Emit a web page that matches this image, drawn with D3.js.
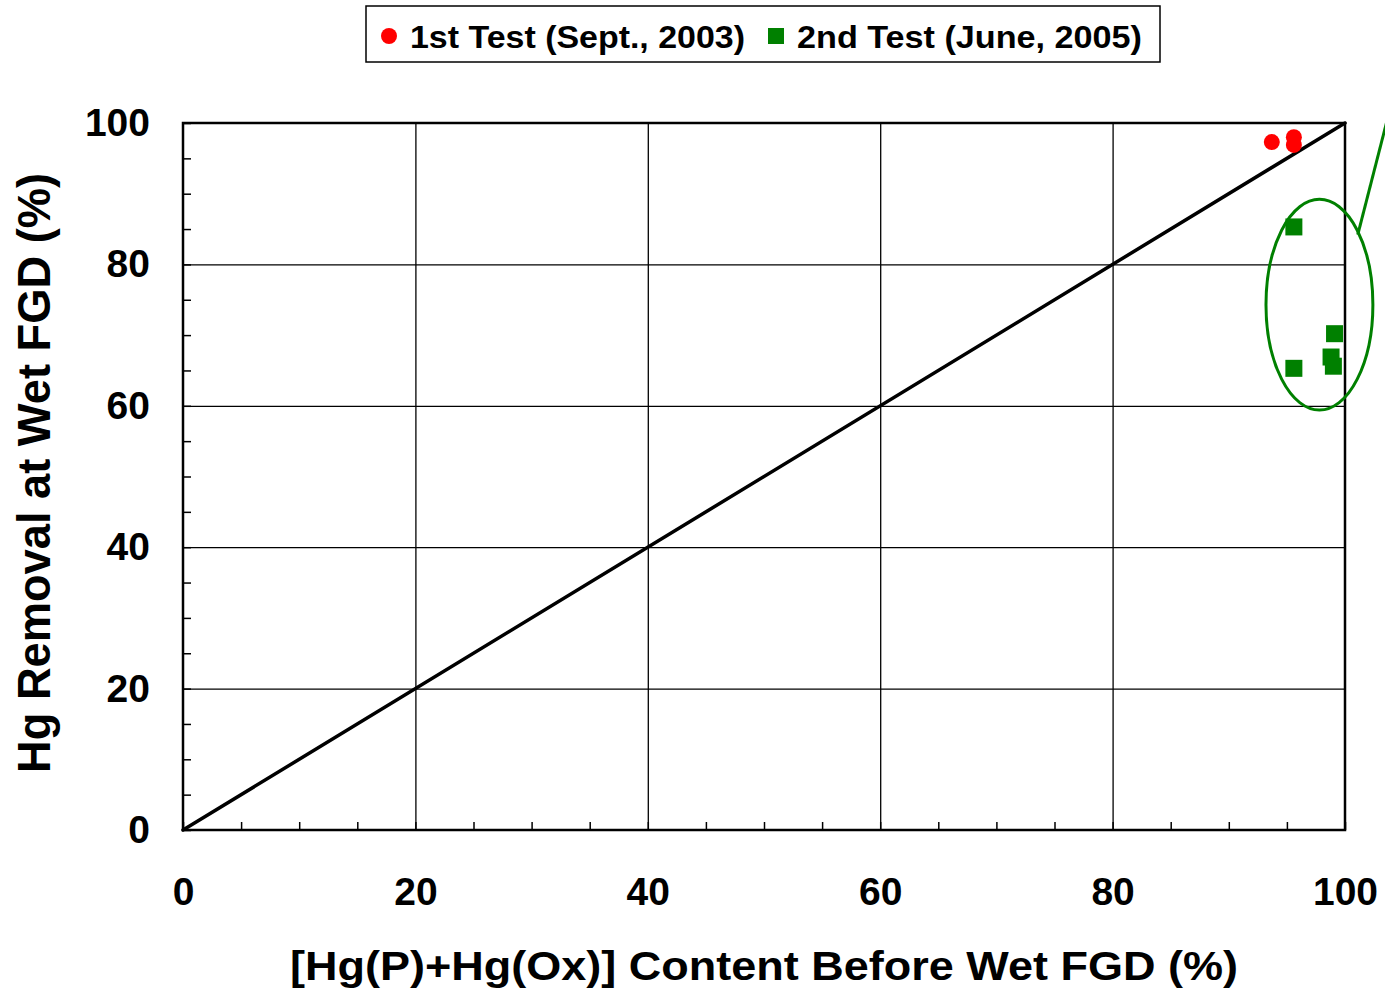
<!DOCTYPE html>
<html>
<head>
<meta charset="utf-8">
<script src="https://cdn.jsdelivr.net/npm/d3@7"></script>
<style>
  body { margin: 0; background: #fff; }
  text { font-family: "Liberation Sans", Arial, sans-serif; font-weight: bold; }
</style>
</head>
<body>
<div id="chart"></div>
<script>
// data
var test1X = [93.7, 95.6, 95.6];
var test1Y = [97.3, 98.0, 96.9];
var test2X = [95.6, 99.1, 98.8, 99.0, 95.6];
var test2Y = [85.3, 70.2, 66.9, 65.6, 65.3];
var majorTicks = [0, 20, 40, 60, 80, 100];
var legendLabels = ["1st Test (Sept., 2003)", "2nd Test (June, 2005)"];
var ellipseCenter = [97.8, 74.3];
var ellipseRadii = [4.6, 14.9];
var calloutLine = [[101.1, 84.2], [104, 102.8]];

var width = 1385, height = 992;
var margin = {top: 123, right: 40, bottom: 162, left: 183};
var chartW = width - margin.left - margin.right,
  chartH = height - margin.top - margin.bottom;

var svg = d3.select("#chart").append("svg")
  .attr("width", width)
  .attr("height", height);

var x = d3.scaleLinear().domain([0, 100]).range([0, chartW]);
var y = d3.scaleLinear().domain([0, 100]).range([chartH, 0]);

var g = svg.append("g")
  .attr("transform", "translate(" + margin.left + "," + margin.top + ")");

// grid lines
g.append("g").attr("class", "grid")
  .attr("transform", "translate(0," + chartH + ")")
  .call(d3.axisBottom(x).tickValues(majorTicks.slice(1, -1)).tickSize(-chartH).tickFormat(""))
  .call(function(s) { s.select(".domain").remove(); });
g.append("g").attr("class", "grid")
  .call(d3.axisLeft(y).tickValues(majorTicks.slice(1, -1)).tickSize(-chartW).tickFormat(""))
  .call(function(s) { s.select(".domain").remove(); });
g.selectAll(".grid line").attr("stroke", "#000").attr("stroke-width", 1.3);

// minor ticks pointing inward
var minor = d3.range(0, 101, 5);
g.append("g").attr("class", "minor")
  .attr("transform", "translate(0," + chartH + ")")
  .call(d3.axisBottom(x).tickValues(minor).tickSize(-8).tickFormat(""));
g.append("g").attr("class", "minor")
  .call(d3.axisLeft(y).tickValues(minor).tickSize(-8).tickFormat(""));
g.selectAll(".minor .domain").remove();
g.selectAll(".minor line").attr("stroke", "#000").attr("stroke-width", 1.5);

// tick labels
var xAxis = g.append("g")
  .attr("transform", "translate(0," + chartH + ")")
  .call(d3.axisBottom(x).tickValues(majorTicks).tickSize(0).tickPadding(47));
var yAxis = g.append("g")
  .call(d3.axisLeft(y).tickValues(majorTicks).tickSize(0).tickPadding(33));
[xAxis, yAxis].forEach(function(a) {
  a.select(".domain").remove();
  a.selectAll("text").attr("font-size", 39).attr("fill", "#000")
    .attr("font-family", "Liberation Sans, Arial, sans-serif");
});

// frame
g.append("rect")
  .attr("width", chartW).attr("height", chartH)
  .attr("fill", "none").attr("stroke", "#000").attr("stroke-width", 2.5);

// 1:1 line
g.append("line")
  .attr("x1", x(0)).attr("y1", y(0))
  .attr("x2", x(100)).attr("y2", y(100))
  .attr("stroke", "#000").attr("stroke-width", 3.5).attr("stroke-linecap", "round");

// callout ellipse and line
g.append("ellipse")
  .attr("cx", x(ellipseCenter[0])).attr("cy", y(ellipseCenter[1]))
  .attr("rx", x(ellipseRadii[0]) - x(0)).attr("ry", y(0) - y(ellipseRadii[1]))
  .attr("fill", "none").attr("stroke", "#008000").attr("stroke-width", 3);
g.append("path")
  .attr("d", d3.line().x(function(d) { return x(d[0]); }).y(function(d) { return y(d[1]); })(calloutLine))
  .attr("fill", "none").attr("stroke", "#008000").attr("stroke-width", 3);

// points
g.selectAll(".p1").data(test1X).enter().append("circle")
  .attr("class", "p1")
  .attr("cx", function(d) { return x(d); })
  .attr("cy", function(d, i) { return y(test1Y[i]); })
  .attr("r", 8).attr("fill", "#ff0000");

var sq = 17;
g.selectAll(".p2").data(test2X).enter().append("rect")
  .attr("class", "p2")
  .attr("x", function(d) { return x(d) - sq / 2; })
  .attr("y", function(d, i) { return y(test2Y[i]) - sq / 2; })
  .attr("width", sq).attr("height", sq).attr("fill", "#008000");

// axis titles (x title is drawn a bit stretched in the original)
svg.append("text")
  .attr("x", 764).attr("y", 980)
  .attr("text-anchor", "middle").attr("font-size", 40)
  .attr("textLength", 948).attr("lengthAdjust", "spacingAndGlyphs")
  .text("[Hg(P)+Hg(Ox)] Content Before Wet FGD (%)");
svg.append("text")
  .attr("transform", "translate(50,473) rotate(-90)")
  .attr("text-anchor", "middle").attr("font-size", 46)
  .attr("textLength", 600).attr("lengthAdjust", "spacingAndGlyphs")
  .text("Hg Removal at Wet FGD (%)");

// legend
var legend = svg.append("g").attr("class", "legend");
legend.append("rect")
  .attr("x", 366).attr("y", 6).attr("width", 794).attr("height", 56)
  .attr("fill", "#fff").attr("stroke", "#000").attr("stroke-width", 1.5);
legend.append("circle").attr("cx", 389).attr("cy", 36).attr("r", 8).attr("fill", "#ff0000");
legend.append("rect").attr("x", 768).attr("y", 28).attr("width", 16).attr("height", 16).attr("fill", "#008000");
legend.selectAll(".lt").data(legendLabels).enter().append("text")
  .attr("class", "lt")
  .attr("x", function(d, i) { return i ? 797 : 410; })
  .attr("y", 48)
  .attr("font-size", 32)
  .attr("textLength", function(d, i) { return i ? 345 : 335; })
  .attr("lengthAdjust", "spacingAndGlyphs")
  .text(function(d) { return d; });
</script>
</body>
</html>
